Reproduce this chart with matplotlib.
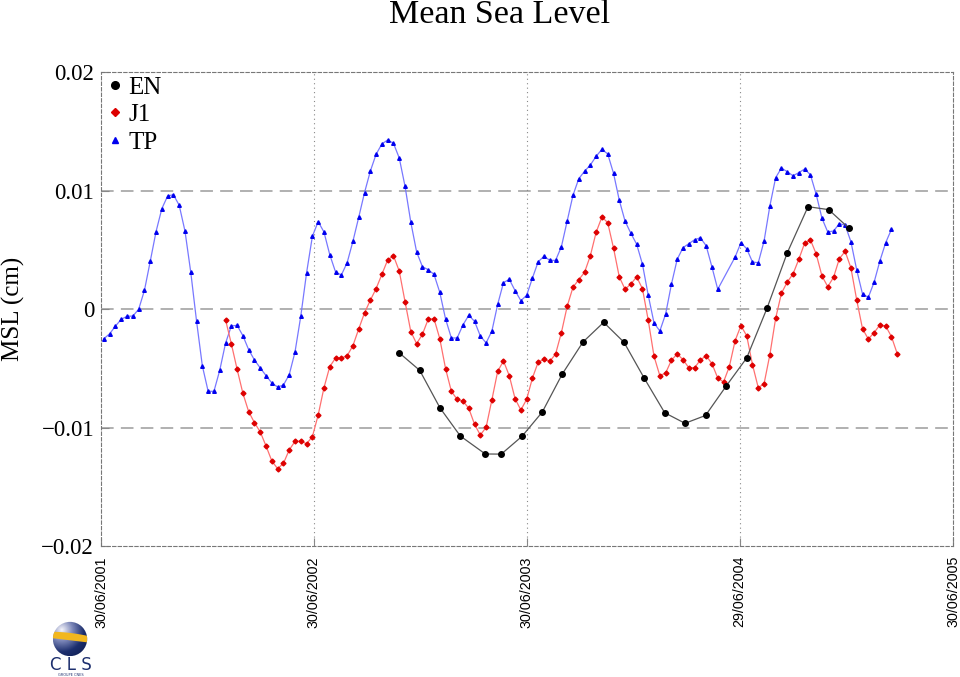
import datetime as dt
import numpy as np
import matplotlib
matplotlib.use("Agg")
import matplotlib.pyplot as plt
import matplotlib.dates as mdates
from matplotlib.lines import Line2D
from matplotlib.patches import Circle

# ---------------- data ----------------
title = "Mean Sea Level"
ylabel = "MSL (cm)"

tick_dates = ["2001-06-30", "2002-06-30", "2003-06-30", "2004-06-29", "2005-06-30"]
tick_labels = ["30/06/2001", "30/06/2002", "30/06/2003", "29/06/2004", "30/06/2005"]
yticks = [-0.02, -0.01, 0.0, 0.01, 0.02]
ytick_labels = ["\u22120.02", "\u22120.01", "0", "0.01", "0.02"]
ygrid = [-0.01, 0.0, 0.01]

# TP / J1 : one value per 10-day cycle (None = missing cycle)
tp_start = "2001-07-05"
cycle_days = 9.93
tp_msl = [
    -0.00248, -0.00206, -0.00141, -0.00084, -0.00059, -0.00057, 0.00000, 0.00160,
    0.00405, 0.00655, 0.00849, 0.00956, 0.00967, 0.00878, 0.00660, 0.00312,
    -0.00101, -0.00478, -0.00692, -0.00692, -0.00515, -0.00287, -0.00141, -0.00135,
    -0.00223, -0.00341, -0.00428, -0.00495, -0.00560, -0.00622, -0.00656, -0.00639,
    -0.00552, -0.00360, -0.00057, 0.00309, 0.00616, 0.00740, 0.00652, 0.00461,
    0.00315, 0.00289, 0.00393, 0.00574, 0.00776, 0.00984, 0.01165, 0.01308,
    0.01395, 0.01429, 0.01401, 0.01277, 0.01038, 0.00734, 0.00484, 0.00360,
    0.00334, 0.00295, 0.00143, -0.00082, -0.00242, -0.00242, -0.00132, -0.00051,
    -0.00101, -0.00225, -0.00284, -0.00183, 0.00042, 0.00225, 0.00253, 0.00158,
    0.00073, 0.00118, 0.00264, 0.00402, 0.00447, 0.00413, 0.00413, 0.00528,
    0.00745, 0.00962, 0.01102, 0.01165, 0.01218, 0.01291, 0.01350, 0.01311,
    0.01148, 0.00920, 0.00743, 0.00641, 0.00549, 0.00380, 0.00118, -0.00116,
    -0.00183, -0.00040, 0.00211, 0.00422, 0.00520, 0.00554, 0.00587, 0.00604,
    0.00536, 0.00357, 0.00169, None, None, 0.00441, 0.00562, 0.00511,
    0.00399, 0.00393, 0.00576, 0.00872, 0.01111, 0.01192, 0.01161, 0.01127,
    0.01153, 0.01184, 0.01136, 0.00970, 0.00768, 0.00652, 0.00661, 0.00722,
    0.00711, 0.00570, 0.00332, 0.00129, 0.00101, 0.00228, 0.00408, 0.00562,
    0.00675,
]

j1_first_cycle = 21  # J1 starts at TP cycle index 21 (same ground track)
j1_msl = [
    -0.00088, -0.00290, -0.00506, -0.00709, -0.00864, -0.00957, -0.01035, -0.01154,
    -0.01280, -0.01345, -0.01300, -0.01187, -0.01114, -0.01114, -0.01134, -0.01075,
    -0.00892, -0.00662, -0.00484, -0.00411, -0.00411, -0.00392, -0.00307, -0.00166,
    -0.00031, 0.00076, 0.00174, 0.00295, 0.00416, 0.00452, 0.00323, 0.00064,
    -0.00189, -0.00290, -0.00211, -0.00084, -0.00079, -0.00248, -0.00501, -0.00692,
    -0.00760, -0.00774, -0.00835, -0.00970, -0.01061, -0.00996, -0.00763, -0.00523,
    -0.00436, -0.00560, -0.00754, -0.00850, -0.00760, -0.00580, -0.00445, -0.00422,
    -0.00439, -0.00377, -0.00197, 0.00025, 0.00186, 0.00250, 0.00312, 0.00452,
    0.00650, 0.00779, 0.00731, 0.00517, 0.00273, 0.00169, 0.00214, 0.00273,
    0.00174, -0.00093, -0.00397, -0.00560, -0.00538, -0.00430, -0.00377, -0.00425,
    -0.00493, -0.00493, -0.00428, -0.00392, -0.00459, -0.00580, -0.00613, -0.00484,
    -0.00265, -0.00138, -0.00223, -0.00467, -0.00662, -0.00628, -0.00383, -0.00076,
    0.00135, 0.00230, 0.00298, 0.00422, 0.00557, 0.00587, 0.00467, 0.00281,
    0.00191, 0.00270, 0.00427, 0.00489, 0.00349, 0.00078, -0.00164, -0.00251,
    -0.00197, -0.00132, -0.00141, -0.00231, -0.00375,
]

# EN : 35-day cycles, days since 30/06/2001
en_base = "2001-06-30"
en_days = [511.0, 546.5, 581.3, 616.1, 659.0, 686.4, 721.9, 756.7, 791.0, 826.5,
           862.0, 896.8, 931.6, 966.6, 1001.4, 1036.6, 1072.3, 1107.2, 1142.0,
           1176.9, 1212.4, 1247.8, 1282.6]
en_msl = [-0.00366, -0.00515, -0.00832, -0.01069, -0.01221, -0.01222, -0.01072,
          -0.00867, -0.00546, -0.00276, -0.00110, -0.00278, -0.00582, -0.00873,
          -0.00962, -0.00896, -0.00646, -0.00411, 0.00008, 0.00478, 0.00866,
          0.00841, 0.00684]

# ---------------- helpers ----------------
def d(s):
    return dt.datetime.strptime(s, "%Y-%m-%d")

t0 = d(tp_start)
tp_x, tp_y = [], []
for i, v in enumerate(tp_msl):
    if v is not None:
        tp_x.append(t0 + dt.timedelta(days=i * cycle_days))
        tp_y.append(v)
j1_x = [t0 + dt.timedelta(days=(j1_first_cycle + i) * cycle_days) for i in range(len(j1_msl))]
en_x = [d(en_base) + dt.timedelta(days=v) for v in en_days]

SERIF = ["Liberation Serif", "DejaVu Serif"]
SANS = ["Liberation Sans", "DejaVu Sans"]

# ---------------- figure ----------------
fig = plt.figure(figsize=(9.6, 6.77), dpi=100)
ax = fig.add_axes([101 / 960, 1 - 546.3 / 677, 852 / 960, 474 / 677])

ax.set_xlim(mdates.date2num(d(tick_dates[0])), mdates.date2num(d(tick_dates[-1])))
ax.set_ylim(yticks[0], yticks[-1])

for g in ygrid:
    ax.axhline(g, color="#aaaaaa", lw=1.3, dashes=(7, 4), zorder=1)
for s in tick_dates[1:-1]:
    ax.axvline(mdates.date2num(d(s)), color="#888888", lw=0.8, dashes=(1, 3), zorder=1)

ax.plot(tp_x, tp_y, color="#7878ff", lw=0.9, marker="^", ms=2.6,
        mfc="#0000ee", mec="#0000ee", zorder=3)
ax.plot(j1_x, j1_msl, color="#ff7070", lw=0.9, marker="D", ms=2.5,
        mfc="#dd0000", mec="#dd0000", zorder=4)
ax.plot(en_x, en_msl, color="#555555", lw=0.9, marker="o", ms=4.0,
        mfc="#000000", mec="#000000", zorder=5)

ax.set_xticks([mdates.date2num(d(s)) for s in tick_dates])
ax.set_xticklabels(tick_labels, rotation=90, family=SANS, fontsize=10.3,
                   va="top", ha="center")
ax.set_yticks(yticks)
ax.set_yticklabels(ytick_labels, family=SERIF, fontsize=16.5)
ax.tick_params(axis="both", direction="in", length=6, width=0.8, color="#888888")
ax.tick_params(axis="y", pad=5)
ax.tick_params(axis="x", pad=7)

for sp in ax.spines.values():
    sp.set_color("#777777")
    sp.set_linewidth(0.8)
    sp.set_linestyle((0, (3, 2)))

handles = [
    Line2D([], [], ls="none", marker="o", ms=5.5, mfc="#000000", mec="#000000"),
    Line2D([], [], ls="none", marker="D", ms=4.2, mfc="#dd0000", mec="#dd0000"),
    Line2D([], [], ls="none", marker="^", ms=4.8, mfc="#0000ee", mec="#0000ee"),
]
ax.legend(handles, ["EN", "J1", "TP"], loc="upper left", frameon=False,
          prop={"family": SERIF, "size": 18}, handlelength=0.8,
          handletextpad=0.15, labelspacing=0.2, borderaxespad=0.05,
          borderpad=0.1)

fig.text(500 / 960, 1 - 15 / 677, title, family=SERIF, fontsize=24.5,
         ha="center", va="center")
fig.text(13 / 960, 1 - 309 / 677, ylabel, family=SERIF, fontsize=18,
         rotation=90, ha="center", va="center")

# ---------------- CLS logo ----------------
lax = fig.add_axes([52 / 960, 1 - 657 / 677, 36 / 960, 36 / 677])
lax.set_xlim(-1.05, 1.05)
lax.set_ylim(-1.05, 1.05)
lax.set_aspect("equal")
lax.axis("off")
gx, gy = np.meshgrid(np.linspace(-1, 1, 120), np.linspace(-1, 1, 120))
shade = np.clip(np.hypot(gx + 0.5, gy - 0.5) / 1.9, 0, 1)
img = lax.imshow(shade, extent=(-1, 1, -1, 1), origin="lower",
                 cmap=matplotlib.colors.LinearSegmentedColormap.from_list(
                     "globe", ["#f4f4fa", "#7b86b8", "#1d2f6e", "#0f1e52"]))
img.set_clip_path(Circle((0, 0), 1.0, transform=lax.transData))
bx = np.linspace(-1.05, 1.05, 50)
band = lax.fill_between(bx, -0.05 - 0.12 * bx, 0.38 - 0.05 * bx ** 2 - 0.12 * bx,
                        color="#f2b71e", lw=0, zorder=3)
band.set_clip_path(Circle((0, 0), 1.0, transform=lax.transData))
fig.text(71 / 960, 1 - 665 / 677, "C L S", family=["DejaVu Sans"], fontsize=12,
         color="#1d2f6e", ha="center", va="center")
fig.text(71 / 960, 1 - 675 / 677, "GROUPE CNES", family=["DejaVu Sans"], fontsize=2.5,
         color="#1d2f6e", ha="center", va="center")

fig.savefig("out.png", dpi=100)
